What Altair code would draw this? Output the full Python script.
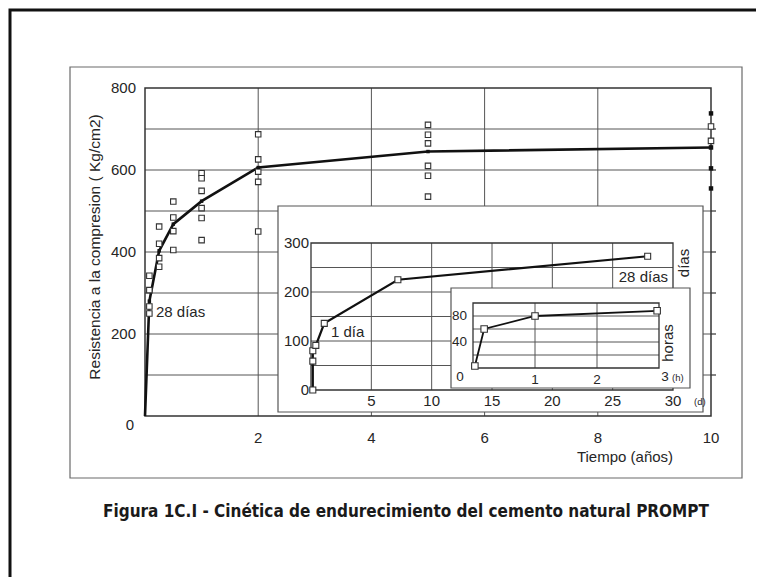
import altair as alt
import pandas as pd

# ---------------- data ----------------
# main plot: strength (kg/cm2) vs time (years)
main_x = [0.077] * 4 + [0.25] * 4 + [0.5] * 4 + [1.0] * 6 + [2.0] * 5 + [5.0] * 6 + [10.0] * 2
main_y = [342, 307, 267, 250,
          462, 420, 385, 364,
          523, 484, 451, 405,
          592, 580, 549, 507, 483, 429,
          687, 626, 596, 571, 450,
          710, 686, 665, 610, 586, 535,
          706, 671]
black_x = [10.0, 10.0, 10.0, 10.0]
black_y = [738, 655, 604, 555]
mean_x = [0.0, 0.077, 0.25, 0.5, 1.0, 2.0, 5.0, 10.0]
mean_y = [0, 280, 403, 468, 524, 606, 645, 655]

main_xticks = [2, 4, 6, 8, 10]
main_yticks = [0, 200, 400, 600, 800]
main_xgrid = [2, 4, 6, 8]
main_ygrid = [100, 200, 300, 400, 500, 600, 700]

# inset 1: days
days_t = [0.15, 0.15, 0.15, 0.4, 1.1, 7.2, 27.9]
days_v = [0, 59, 80, 91, 136, 225, 273]
days_xticks = [5, 10, 15, 20, 25, 30]
days_yticks = [0, 100, 200, 300]
days_xgrid = [5, 10, 15, 20, 25]
days_ygrid = [50, 100, 150, 200, 250]

# inset 2: hours
hours_t = [0.03, 0.18, 1.0, 2.97]
hours_v = [3, 60, 80, 88]
hours_xticks = [1, 2]
hours_yticks = [0, 40, 80]
hours_xgrid = [1, 2]
hours_ygrid = [20, 40, 60, 80]

# ---------------- layout helpers ----------------
OFF = 8  # page margin
FONT = "Liberation Sans"
GRID = "#555555"
TXT = "#262626"


def sc(dom, a, b):
    return alt.Scale(domain=dom, range=[a - OFF, b - OFF], nice=False, zero=False)


MX, MY = sc([0, 10], 145, 711), sc([0, 800], 416, 88)
DX, DY = sc([0, 30], 311, 673), sc([0, 300], 390, 243)
HX, HY = sc([0, 3], 473, 659), sc([0, 100], 368, 303)

one = pd.DataFrame({"a": [0]})


def Xq(f, s):
    return alt.X(f, type="quantitative", scale=s, axis=None)


def Yq(f, s):
    return alt.Y(f, type="quantitative", scale=s, axis=None)


def box(x0, y0, x1, y1, **kw):
    return alt.Chart(one).mark_rect(**kw).encode(
        x=alt.value(x0 - OFF), x2=alt.value(x1 - OFF),
        y=alt.value(y0 - OFF), y2=alt.value(y1 - OFF))


def frame(xd, yd, XS, YS, width=1.3):
    df = pd.DataFrame({"x0": [xd[0]], "x1": [xd[1]], "y0": [yd[0]], "y1": [yd[1]]})
    return alt.Chart(df).mark_rect(filled=False, stroke="#333333", strokeWidth=width).encode(
        x=Xq("x0", XS), x2="x1:Q", y=Yq("y0", YS), y2="y1:Q")


def grid(xs, ys, xd, yd, XS, YS, width=1.0):
    v = pd.DataFrame({"g": xs, "lo": [yd[0]] * len(xs), "hi": [yd[1]] * len(xs)})
    h = pd.DataFrame({"g": ys, "lo": [xd[0]] * len(ys), "hi": [xd[1]] * len(ys)})
    lv = alt.Chart(v).mark_rule(color=GRID, strokeWidth=width).encode(
        x=Xq("g", XS), y=Yq("lo", YS), y2="hi:Q")
    lh = alt.Chart(h).mark_rule(color=GRID, strokeWidth=width).encode(
        y=Yq("g", YS), x=Xq("lo", XS), x2="hi:Q")
    return [lv, lh]


def xlabels(ticks, XS, ypix, size=15, texts=None):
    df = pd.DataFrame({"v": ticks, "t": texts or [str(t) for t in ticks]})
    return alt.Chart(df).mark_text(font=FONT, fontSize=size, color=TXT, align="center",
                                   baseline="middle").encode(
        x=Xq("v", XS), y=alt.value(ypix - OFF), text="t:N")


def ylabels(ticks, YS, xpix, size=15, dy=0):
    df = pd.DataFrame({"v": ticks, "t": [str(t) for t in ticks]})
    return alt.Chart(df).mark_text(font=FONT, fontSize=size, color=TXT, align="right",
                                   baseline="middle", dy=dy).encode(
        y=Yq("v", YS), x=alt.value(xpix - OFF), text="t:N")


def label(text, x, y, size=15, align="left", angle=0, font=FONT, weight="normal", color=TXT):
    return alt.Chart(one).mark_text(text=text, font=font, fontSize=size, align=align,
                                    baseline="middle", angle=angle, fontWeight=weight,
                                    color=color).encode(
        x=alt.value(x - OFF), y=alt.value(y - OFF))


layers = []

# outer frames
layers.append(box(10, 10, 800, 700, filled=False, stroke="#111111", strokeWidth=3))
layers.append(box(70, 67, 742, 478, filled=False, stroke="#6a6a6a", strokeWidth=1.2))

# ---------------- main plot ----------------
layers += grid(main_xgrid, main_ygrid, [0, 10], [0, 800], MX, MY)
layers.append(frame([0, 10], [0, 800], MX, MY, width=1.5))
rt = pd.DataFrame({"g": main_ygrid})
layers.append(alt.Chart(rt).mark_rule(color="#333333", strokeWidth=1.2).encode(
    y=Yq("g", MY), x=alt.value(711 - OFF), x2=alt.value(716 - OFF)))

mean_df = pd.DataFrame({"x": mean_x, "y": mean_y})
layers.append(alt.Chart(mean_df).mark_line(color="#111111", strokeWidth=2.6).encode(
    x=Xq("x", MX), y=Yq("y", MY)))
pts = pd.DataFrame({"x": main_x, "y": main_y})
layers.append(alt.Chart(pts).mark_square(size=30, fill="white", stroke="#333333",
                                         strokeWidth=1.1, opacity=1).encode(
    x=Xq("x", MX), y=Yq("y", MY)))
dots = pd.DataFrame({"x": mean_x[1:], "y": mean_y[1:]})
layers.append(alt.Chart(dots).mark_square(size=12, color="#111111", opacity=1).encode(
    x=Xq("x", MX), y=Yq("y", MY)))
blk = pd.DataFrame({"x": black_x, "y": black_y})
layers.append(alt.Chart(blk).mark_square(size=20, color="#111111", opacity=1).encode(
    x=Xq("x", MX), y=Yq("y", MY)))

layers.append(xlabels(main_xticks, MX, 438))
layers.append(ylabels(main_yticks[1:], MY, 136))
layers.append(label("0", 130, 425, align="center"))
layers.append(label("Resistencia a la compresion ( Kg/cm2)", 95, 247, size=15.5,
                    align="center", angle=270))
layers.append(label("Tiempo (años)", 625, 457, size=15, align="center"))
layers.append(label("28 días", 156, 312, size=15))

# ---------------- inset 1: days ----------------
layers.append(box(278, 206, 703, 412, fill="white", stroke="#555555", strokeWidth=1.2))
layers += grid(days_xgrid, days_ygrid, [0, 30], [0, 300], DX, DY)
layers.append(frame([0, 30], [0, 300], DX, DY))
ddf = pd.DataFrame({"x": days_t, "y": days_v})
layers.append(alt.Chart(ddf).mark_line(color="#111111", strokeWidth=2.2).encode(
    x=Xq("x", DX), y=Yq("y", DY)))
layers.append(alt.Chart(ddf).mark_square(size=36, fill="white", stroke="#333333",
                                         strokeWidth=1.1, opacity=1).encode(
    x=Xq("x", DX), y=Yq("y", DY)))
layers.append(xlabels(days_xticks, DX, 401))
layers.append(label("(d)", 694, 402, size=9.5))
layers.append(ylabels(days_yticks, DY, 309))
layers.append(label("días", 684, 263, size=15, align="center", angle=270))
layers.append(label("1 día", 331, 332, size=15))
layers.append(label("28 días", 668, 277, size=15, align="right"))

# ---------------- inset 2: hours ----------------
layers.append(box(451, 288, 690, 388, fill="white", stroke="#555555", strokeWidth=1.2))
layers += grid(hours_xgrid, hours_ygrid, [0, 3], [0, 100], HX, HY)
layers.append(frame([0, 3], [0, 100], HX, HY))
hdf = pd.DataFrame({"x": hours_t, "y": hours_v})
layers.append(alt.Chart(hdf).mark_line(color="#111111", strokeWidth=1.8).encode(
    x=Xq("x", HX), y=Yq("y", HY)))
layers.append(alt.Chart(hdf).mark_square(size=42, fill="white", stroke="#333333",
                                         strokeWidth=1.1, opacity=1).encode(
    x=Xq("x", HX), y=Yq("y", HY)))
layers.append(xlabels(hours_xticks, HX, 380, size=13.5))
layers.append(label("3", 665, 377, size=13.5, align="center"))
layers.append(label("(h)", 672, 378, size=9.5))
layers.append(ylabels(hours_yticks[1:], HY, 467, size=13.5))
layers.append(label("0", 460, 377, size=13.5, align="center"))
layers.append(label("horas", 668, 343, size=15, align="center", angle=270))

# ---------------- caption ----------------
layers.append(label("Figura 1C.I - Cinética de endurecimiento del cemento natural PROMPT",
                    406, 512, size=17, align="center",
                    font="Liberation Sans Narrow, DejaVu Sans Condensed, sans-serif",
                    weight="bold", color="#1a1a1a"))

chart = alt.layer(*layers).resolve_scale(x="independent", y="independent").properties(
    width=748, height=569, padding=0,
    autosize=alt.AutoSizeParams(type="none"),
    background="white",
).configure_view(stroke=None)

chart.save("out.html", embed_options={"renderer": "svg", "actions": False})
